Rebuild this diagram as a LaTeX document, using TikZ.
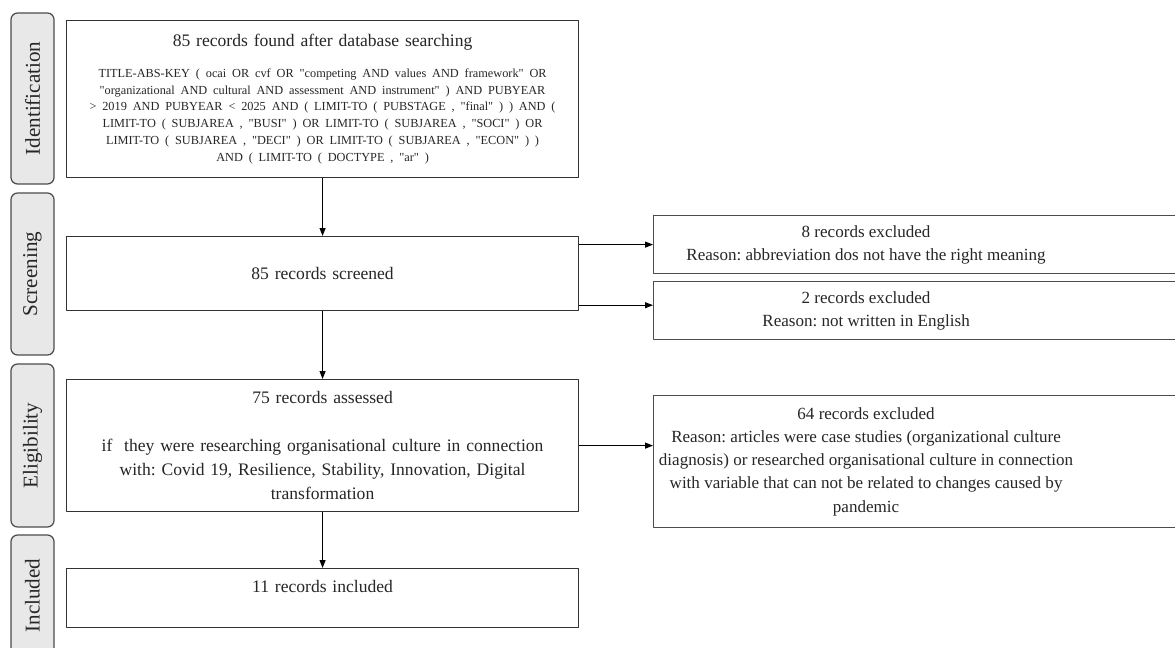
\documentclass[tikz,border=0pt]{standalone}
\usepackage{fontspec}
\setmainfont{Liberation Serif}[Ligatures=TeXOff]
\usetikzlibrary{arrows.meta}
\frenchspacing

\begin{document}
\begin{tikzpicture}[
        x={(0.02cm,0cm)},
        y={(0cm,-0.02cm)},
        line join=round,
        stage/.style={draw=black!70, fill=black!9, line width=0.7pt,
            rounded corners=0.13cm, rotate=90, minimum height=0.86cm,
            inner sep=0pt, text=black!85, font=\fontsize{12}{14}\selectfont},
        mainbox/.style={draw=black!80, fill=white, line width=0.7pt,
            anchor=north west, text width=10.24cm, inner sep=0pt,
            align=center, text=black!85, font=\fontsize{10}{13.6}\selectfont},
        exbox/.style={draw=black!70, fill=white, line width=0.7pt,
            anchor=north west, inner sep=0pt, text=black!85,
            font=\fontsize{9.7}{13.2}\selectfont},
        arr/.style={-{Triangle[length=0.16cm,width=0.12cm]}, line width=0.6pt}
    ]
        % 画布范围（按像素坐标，y 向下）
        \useasboundingbox (0,0) rectangle (1175,648);
        \def\exw{8.5cm}   % 右侧框中文字的宽度
        \def\exgap{2.3cm} % 右侧框伸出画面的部分

        % 左侧阶段标签
        \node[stage, minimum width=3.42cm] (stId)   at (32.5,98.5)  {Identification};
        \node[stage, minimum width=3.24cm] (stScr)  at (32.5,274)   {Screening};
        \node[stage, minimum width=3.26cm] (stElig) at (32.5,445.5) {Eligibility};
        \node[stage, minimum width=2.42cm] (stIncl) at (32.5,595.5) {Included};

        % 主流程框
        \node[mainbox, minimum height=3.14cm] (search) at (66,20) {%
            85 records found after database searching\par\vspace{8pt}%
            \fontsize{7}{9.6}\selectfont
            TITLE-ABS-KEY ( ocai OR cvf OR "competing AND values AND framework" OR\\
            "organizational AND cultural AND assessment AND instrument" ) AND PUBYEAR\\
            > 2019 AND PUBYEAR < 2025 AND ( LIMIT-TO ( PUBSTAGE , "final" ) ) AND (\\
            LIMIT-TO ( SUBJAREA , "BUSI" ) OR LIMIT-TO ( SUBJAREA , "SOCI" ) OR\\
            LIMIT-TO ( SUBJAREA , "DECI" ) OR LIMIT-TO ( SUBJAREA , "ECON" ) )\\
            AND ( LIMIT-TO ( DOCTYPE , "ar" )\par};
        \node[mainbox, minimum height=1.48cm] (screen) at (66,236) {85 records screened};
        \node[mainbox, minimum height=2.64cm] (assess) at (66,379) {%
            75 records assessed\\[13.6pt]
            if\ \ they were researching organisational culture in connection\\
            with: Covid 19, Resilience, Stability, Innovation, Digital\\
            transformation};
        \node[mainbox, text height=0.48cm, text depth=0.70cm] (incl) at (66,568)
            {11 records included};

        % 右侧排除框
        \node[exbox, minimum height=1.16cm] (ex1) at (653,215) {%
            \parbox{\exw}{\centering 8 records excluded\\
            Reason: abbreviation dos not have the right meaning}\kern\exgap};
        \node[exbox, minimum height=1.16cm] (ex2) at (653,281) {%
            \parbox{\exw}{\centering 2 records excluded\\
            Reason: not written in English}\kern\exgap};
        \node[exbox, minimum height=2.64cm] (ex3) at (653,395) {%
            \parbox{\exw}{\centering 64 records excluded\\
            Reason: articles were case studies (organizational culture\\
            diagnosis) or researched organisational culture in connection\\
            with variable that can not be related to changes caused by\\
            pandemic}\kern\exgap};

        % 箭头
        \draw[arr] (search.south) -- (screen.north);
        \draw[arr] (screen.south) -- (assess.north);
        \draw[arr] (assess.south) -- (incl.north);
        \draw[arr] (screen.east |- ex1.west) -- (ex1.west);
        \draw[arr] ([yshift=0.12cm]screen.south east)
            -- ([yshift=0.12cm]screen.south east -| ex2.west);
        \draw[arr] (assess.east) -- (assess.east -| ex3.west);
    \end{tikzpicture}
\end{document}
